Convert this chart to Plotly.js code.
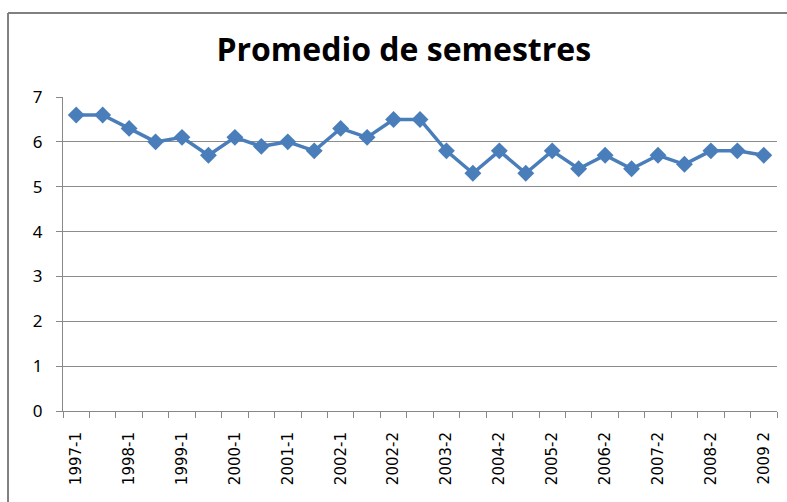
<!DOCTYPE html>
<html>
<head>
<meta charset="utf-8">
<script src="https://cdn.plot.ly/plotly-3.0.1.min.js"></script>
<style>html,body{margin:0;padding:0;background:#fff;}#chart{width:787px;height:502px;}</style>
</head>
<body>
<div id="chart"></div>
<script>
var categories = ["1997-1","1997-2","1998-1","1998-2","1999-1","1999-2","2000-1","2000-2","2001-1","2001-2","2002-1","2002-1b","2002-2","2003-1","2003-2","2004-1","2004-2","2005-1","2005-2","2006-1","2006-2","2007-1","2007-2","2008-1","2008-2","2009-1","2009 2"];
var promedio = [6.6,6.6,6.3,6.0,6.1,5.7,6.1,5.9,6.0,5.8,6.3,6.1,6.5,6.5,5.8,5.3,5.8,5.3,5.8,5.4,5.7,5.4,5.7,5.5,5.8,5.8,5.7];
var shownLabels = ["1997-1","1998-1","1999-1","2000-1","2001-1","2002-1","2002-2","2003-2","2004-2","2005-2","2006-2","2007-2","2008-2","2009 2"];
var yTicks = [0,1,2,3,4,5,6,7];

var tickText = categories.map(function(c){ return shownLabels.indexOf(c) >= 0 ? c : ""; });

var trace = {
  x: categories,
  y: promedio,
  type: "scatter",
  mode: "lines+markers",
  line: {color: "#4A7EBB", width: 3.5},
  marker: {symbol: "diamond", size: 13, color: "#4A7EBB"},
  hoverinfo: "x+y"
};

var layout = {
  width: 787, height: 502,
  margin: {l: 63, r: 10, t: 97, b: 91},
  paper_bgcolor: "#ffffff",
  plot_bgcolor: "#ffffff",
  showlegend: false,
  title: {
    text: "<b>Promedio de semestres</b>",
    font: {family: "Open Sans, Noto Sans, sans-serif", size: 32, color: "#000"},
    x: 0.513, xanchor: "center", y: 0.9, yanchor: "middle"
  },
  xaxis: {
    type: "category",
    categoryorder: "array",
    categoryarray: categories,
    tickmode: "array",
    tickvals: categories,
    ticktext: tickText,
    tickson: "boundaries",
    ticks: "outside",
    ticklen: 6,
    tickcolor: "#888",
    tickangle: -90,
    tickfont: {family: "DejaVu Sans, sans-serif", size: 15, color: "#000"},
    ticklabelstandoff: 14,
    showline: true,
    linecolor: "#888",
    linewidth: 1,
    showgrid: false,
    zeroline: false,
    range: [-0.5, 26.5]
  },
  yaxis: {
    range: [0, 7],
    tickmode: "array",
    tickvals: yTicks,
    ticks: "outside",
    ticklen: 6,
    tickcolor: "#888",
    tickfont: {family: "Noto Sans, sans-serif", size: 17, color: "#000"},
    showline: true,
    linecolor: "#888",
    linewidth: 1,
    showgrid: true,
    gridcolor: "#8c8c8c",
    gridwidth: 1,
    zeroline: false,
    ticklabelstandoff: 10
  },
  shapes: [
    {type: "line", xref: "paper", yref: "paper", x0: -0.077, x1: 1.2, y0: 1.2675, y1: 1.2675, line: {color: "#808080", width: 2}},
    {type: "line", xref: "paper", yref: "paper", x0: -0.077, x1: -0.077, y0: 1.2675, y1: -0.5, line: {color: "#808080", width: 2}}
  ]
};

Plotly.newPlot("chart", [trace], layout, {displayModeBar: false, staticPlot: true});
</script>
</body>
</html>
